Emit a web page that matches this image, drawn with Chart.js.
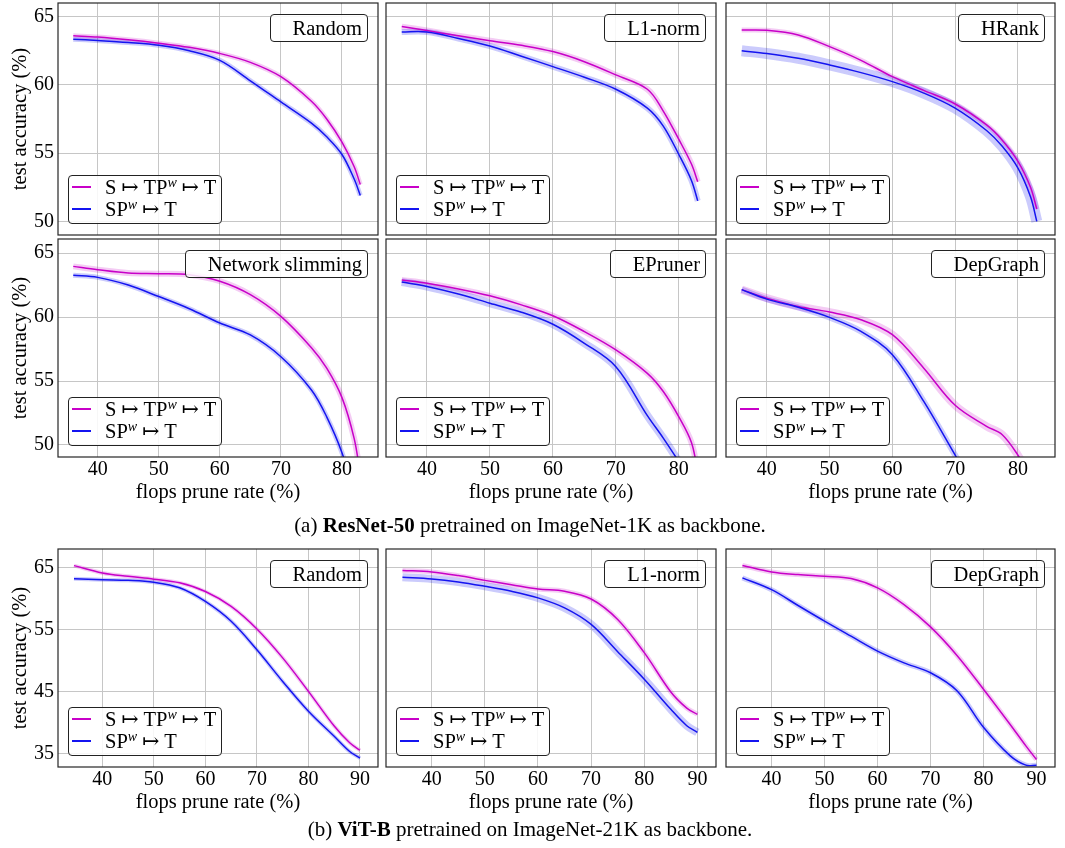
<!DOCTYPE html>
<html>
<head>
<meta charset="utf-8">
<script src="https://cdn.jsdelivr.net/npm/chart.js@4.4.1/dist/chart.umd.min.js"></script>
<style>
  body { margin: 0; background: #fff; width: 1065px; height: 848px; position: relative; overflow: hidden;
         font-family: "Liberation Serif", "DejaVu Serif", serif; color: #000; }
  canvas { position: absolute; }
  .tag { position: absolute; border: 1px solid #222; border-radius: 4px; background: rgba(255,255,255,0.85);
         font-size: 20.5px; line-height: 26px; height: 26px; padding: 0 5px 0 22px; white-space: nowrap; }
  .leg { position: absolute; border: 1px solid #222; border-radius: 4px; background: rgba(255,255,255,0.85);
         width: 152px; height: 47px; font-size: 20.5px; }
  .leg .row { position: absolute; left: 0; height: 22px; line-height: 22px; white-space: nowrap; }
  .leg .ln { position: absolute; left: 3px; top: 10px; width: 19px; height: 1.6px; }
  .leg .tx { position: absolute; left: 36px; top: 0; }
  .leg sup { font-size: 14px; font-style: italic; vertical-align: 0; position: relative; top: -7px; }
  .cap { position: absolute; left: 0; width: 1060px; text-align: center; font-size: 21px; white-space: nowrap; }
</style>
</head>
<body>
<script>
// flops prune rate (%) sampled along the curves
const xResNet = [36, 40, 45, 50, 55, 60, 65, 70, 75, 77.5, 80, 82, 83];
const xViT = [34.5, 40, 45, 50, 55, 60, 65, 70, 75, 80, 85, 88, 90];

// tick labels
const xTicksResNet = [40, 50, 60, 70, 80];
const yTicksResNet = [50, 55, 60, 65];
const xTicksViT = [40, 50, 60, 70, 80, 90];
const yTicksViT = [35, 45, 55, 65];

// ResNet-50 (test accuracy %)
const resRandomS  = [63.6, 63.5, 63.3, 63.05, 62.75, 62.3, 61.65, 60.6, 58.8, 57.5, 55.8, 54.0, 52.7];
const resRandomSP = [63.35, 63.25, 63.1, 62.9, 62.5, 61.8, 60.3, 58.75, 57.2, 56.2, 54.9, 53.1, 51.9];
const resL1S      = [64.27, 63.98, 63.6, 63.24, 62.9, 62.44, 61.7, 60.73, 59.68, 58.1, 56.0, 54.2, 52.9];
const resL1SP     = [63.88, 63.88, 63.4, 62.85, 62.1, 61.34, 60.56, 59.68, 58.3, 57.0, 54.9, 53.0, 51.5];
const resHRankS   = [64.02, 64.0, 63.66, 62.8, 61.8, 60.6, 59.6, 58.6, 57.07, 55.95, 54.4, 52.5, 50.9];
const resHRankSP  = [62.5, 62.3, 61.95, 61.46, 60.9, 60.24, 59.4, 58.3, 56.66, 55.5, 53.9, 51.8, 50.0];
const resNSS      = [63.96, 63.7, 63.44, 63.39, 63.3, 62.8, 61.75, 60.05, 57.6, 56.0, 53.7, 50.5, 47.7];
const resNSSP     = [63.26, 63.1, 62.5, 61.6, 60.65, 59.53, 58.6, 56.9, 54.3, 52.2, 49.4, 46.2, 44.5];
const resEPS      = [62.9, 62.65, 62.2, 61.66, 60.95, 60.1, 58.86, 57.43, 55.6, 54.2, 52.2, 50.2, 47.9];
const resEPSP     = [62.73, 62.39, 61.8, 61.08, 60.38, 59.44, 57.95, 56.12, 52.3, 50.56, 48.7, 47.2, 46.4];
const resDGS      = [62.14, 61.48, 60.83, 60.39, 59.79, 58.62, 56.0, 53.1, 51.46, 50.8, 49.2, 47.5, 46.5];
const resDGSP     = [62.14, 61.4, 60.76, 59.97, 58.88, 57.06, 53.4, 49.2, 45.0, 43.0, 41.0, 39.5, 38.5];

// ViT-B (test accuracy %)
const vitRandomS  = [65.38, 64.2, 63.66, 63.2, 62.6, 61.2, 58.8, 55.16, 50.5, 45.1, 39.5, 36.8, 35.6];
const vitRandomSP = [63.28, 63.1, 63.0, 62.7, 61.8, 59.6, 56.4, 51.8, 46.7, 41.9, 37.85, 35.4, 34.35];
const vitL1S      = [64.6, 64.36, 63.77, 63.0, 62.3, 61.6, 61.25, 60.0, 56.7, 51.34, 45.0, 42.4, 41.4];
const vitL1SP     = [63.5, 63.23, 62.75, 62.05, 61.25, 60.18, 58.57, 55.9, 51.5, 47.06, 42.2, 39.56, 38.5];
const vitDGS      = [65.4, 64.36, 63.93, 63.66, 63.3, 61.8, 59.1, 55.5, 50.9, 45.45, 39.8, 36.3, 34.1];
const vitDGSP     = [63.4, 61.5, 58.95, 56.43, 54.0, 51.6, 49.7, 48.1, 45.2, 39.3, 34.74, 33.2, 33.2];

const seriesLabels = ['S ↦ TP<sup>w</sup> ↦ T', 'SP<sup>w</sup> ↦ T'];
const methodNames = ['Random', 'L1-norm', 'HRank', 'Network slimming', 'EPruner', 'DepGraph', 'Random', 'L1-norm', 'DepGraph'];

const colS = '#c800c8', colSP = '#1414f0';
const bandS = 'rgba(200,0,200,0.2)', bandSP = 'rgba(20,20,240,0.22)';
const FONT = '"Liberation Serif", "DejaVu Serif", serif';

// plot areas (px) per column / row
const cols = [{ l: 58, w: 320 }, { l: 386, w: 330 }, { l: 726, w: 329 }];
const rows = [
  { t: 3, h: 232, ymin: 49, ymax: 66, xmin: 33.5, xmax: 85.9 },
  { t: 239, h: 218, ymin: 49.06, ymax: 66.1, xmin: 33.5, xmax: 85.9 },
  { t: 549, h: 218, ymin: 32.9, ymax: 68.06, xmin: 31.4, xmax: 93.5 }
];

const panels = [
  { row: 0, col: 0, x: xResNet, s: resRandomS, sp: resRandomSP, bs: 5, bsp: 5 },
  { row: 0, col: 1, x: xResNet, s: resL1S, sp: resL1SP, bs: 6, bsp: 6 },
  { row: 0, col: 2, x: xResNet, s: resHRankS, sp: resHRankSP, bs: 5, bsp: 11 },
  { row: 1, col: 0, x: xResNet, s: resNSS, sp: resNSSP, bs: 6, bsp: 5 },
  { row: 1, col: 1, x: xResNet, s: resEPS, sp: resEPSP, bs: 6, bsp: 8 },
  { row: 1, col: 2, x: xResNet, s: resDGS, sp: resDGSP, bs: 8, bsp: 6 },
  { row: 2, col: 0, x: xViT, s: vitRandomS, sp: vitRandomSP, bs: 4, bsp: 4 },
  { row: 2, col: 1, x: xViT, s: vitL1S, sp: vitL1SP, bs: 5, bsp: 8 },
  { row: 2, col: 2, x: xViT, s: vitDGS, sp: vitDGSP, bs: 5, bsp: 5 }
];

// full box around the plot area
const framePlugin = {
  id: 'frame',
  afterDatasetsDraw(chart) {
    const a = chart.chartArea, c = chart.ctx;
    c.save();
    c.strokeStyle = '#262626';
    c.lineWidth = 1.2;
    c.strokeRect(a.left, a.top, a.right - a.left, a.bottom - a.top);
    c.restore();
  }
};

function pts(xs, ys) { return xs.map((x, i) => ({ x: x, y: ys[i] })); }

function line(data, color, width, order) {
  return { data: data, borderColor: color, borderWidth: width, pointRadius: 0, fill: false,
           tension: 0.35, clip: 0, order: order, borderCapStyle: 'butt' };
}

panels.forEach((p, i) => {
  const c = cols[p.col], r = rows[p.row];
  const hasY = p.col === 0, hasX = p.row > 0;
  const yW = hasY ? 58 : 0, xH = hasX ? 48 : 0;
  const L = hasY ? 58 : 8, T = 22, R = 8, B = hasX ? 53 : 22;
  const isViT = p.row === 2;
  const xt = isViT ? xTicksViT : xTicksResNet;
  const yt = isViT ? yTicksViT : yTicksResNet;

  const cv = document.createElement('canvas');
  const W = c.w + L + R, H = r.h + T + B;
  cv.width = W; cv.height = H;
  cv.style.left = (c.l - L) + 'px';
  cv.style.top = (r.t - T) + 'px';
  cv.style.width = W + 'px'; cv.style.height = H + 'px';
  document.body.appendChild(cv);

  const gridCfg = { color: '#c6c6c6', lineWidth: 1, drawTicks: false };
  new Chart(cv.getContext('2d'), {
    type: 'line',
    data: {
      datasets: [
        line(pts(p.x, p.s), bandS, p.bs, 4),
        line(pts(p.x, p.sp), bandSP, p.bsp, 3),
        line(pts(p.x, p.s), colS, 1.5, 1),
        line(pts(p.x, p.sp), colSP, 1.5, 0)
      ]
    },
    options: {
      responsive: false,
      animation: false,
      events: [],
      layout: { padding: { left: L - yW, top: T, right: R, bottom: B - xH } },
      plugins: { legend: { display: false }, tooltip: { enabled: false } },
      scales: {
        x: {
          type: 'linear', min: r.xmin, max: r.xmax,
          afterBuildTicks: s => { s.ticks = xt.map(v => ({ value: v })); },
          afterFit: s => { s.height = xH; },
          grid: gridCfg,
          border: { display: false },
          ticks: { display: hasX, color: '#000', padding: 1, autoSkip: false, maxRotation: 0,
                   font: { family: FONT, size: 20 } },
          title: { display: hasX, text: 'flops prune rate (%)', color: '#000',
                   padding: { top: 1, bottom: 0 }, font: { family: FONT, size: 20.5 } }
        },
        y: {
          type: 'linear', min: r.ymin, max: r.ymax,
          afterBuildTicks: s => { s.ticks = yt.map(v => ({ value: v })); },
          afterFit: s => { s.width = yW; },
          grid: gridCfg,
          border: { display: false },
          ticks: { display: hasY, color: '#000', padding: 4, font: { family: FONT, size: 20 } },
          title: { display: hasY, text: 'test accuracy (%)', color: '#000',
                   padding: { top: 8, bottom: 0 }, font: { family: FONT, size: 20.5 } }
        }
      }
    },
    plugins: [framePlugin]
  });

  // method name box, top right
  const tag = document.createElement('div');
  tag.className = 'tag';
  tag.textContent = methodNames[i];
  tag.style.right = (1065 - (c.l + c.w - 10)) + 'px';
  tag.style.top = (r.t + 11) + 'px';
  document.body.appendChild(tag);

  // legend box, bottom left
  const leg = document.createElement('div');
  leg.className = 'leg';
  leg.style.left = (c.l + 10) + 'px';
  leg.style.top = (r.t + r.h - 11 - 49) + 'px';
  leg.innerHTML =
    '<div class="row" style="top:0"><div class="ln" style="background:' + colS + '"></div><div class="tx">' + seriesLabels[0] + '</div></div>' +
    '<div class="row" style="top:22px"><div class="ln" style="background:' + colSP + '"></div><div class="tx">' + seriesLabels[1] + '</div></div>';
  document.body.appendChild(leg);
});

const capA = document.createElement('div');
capA.className = 'cap';
capA.style.top = '513px';
capA.innerHTML = '(a) <b>ResNet-50</b> pretrained on ImageNet-1K as backbone.';
document.body.appendChild(capA);

const capB = document.createElement('div');
capB.className = 'cap';
capB.style.top = '817px';
capB.innerHTML = '(b) <b>ViT-B</b> pretrained on ImageNet-21K as backbone.';
document.body.appendChild(capB);
</script>
</body>
</html>
